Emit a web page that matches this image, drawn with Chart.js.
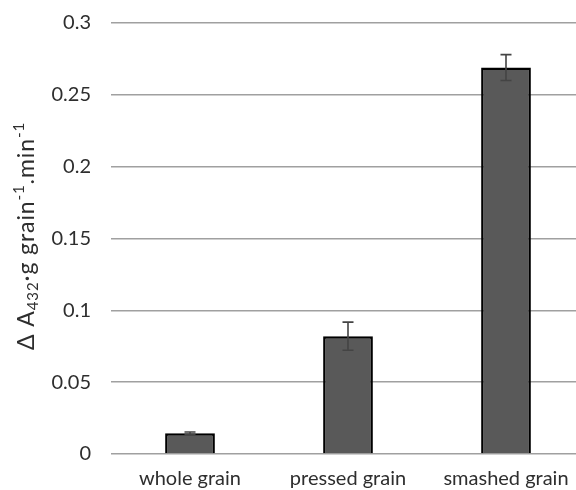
<!DOCTYPE html>
<html>
<head>
<meta charset="utf-8">
<script src="https://cdn.jsdelivr.net/npm/chart.js@4.4.0/dist/chart.umd.min.js"></script>
<style>
  html, body { margin: 0; padding: 0; background: #fff; overflow: hidden; }
  #wrap { position: relative; width: 590px; height: 499px; margin-top: -9px; }
</style>
</head>
<body>
<div id="wrap"><canvas id="grainChart"></canvas></div>
<script>
// data
const categories = ['whole grain', 'pressed grain', 'smashed grain'];
const rateValues = [0.0145, 0.082, 0.269];
const rateErrors = [0.0008, 0.0098, 0.009];
const yTicks = [0, 0.05, 0.1, 0.15, 0.2, 0.25, 0.3];

const FONT = 'Lato, "Open Sans", sans-serif';

// error bars, drawn through the y scale
const errorBars = {
    id: 'errorBars',
    afterDatasetsDraw(chart) {
        const ctx = chart.ctx;
        const yScale = chart.scales.y;
        const meta = chart.getDatasetMeta(0);
        ctx.save();
        ctx.strokeStyle = '#444';
        ctx.lineWidth = 1.6;
        meta.data.forEach((bar, i) => {
            const top = yScale.getPixelForValue(rateValues[i] + rateErrors[i]);
            const bottom = yScale.getPixelForValue(rateValues[i] - rateErrors[i]);
            const half = 5.5;
            ctx.beginPath();
            ctx.moveTo(bar.x, top);
            ctx.lineTo(bar.x, bottom);
            ctx.moveTo(bar.x - half, top);
            ctx.lineTo(bar.x + half, top);
            ctx.moveTo(bar.x - half, bottom);
            ctx.lineTo(bar.x + half, bottom);
            ctx.stroke();
        });
        ctx.restore();
    }
};

// y axis title with sub- and superscripts
const yTitle = {
    id: 'yTitle',
    afterDraw(chart) {
        const ctx = chart.ctx;
        const parts = [
            { t: '\u0394 A', size: 23, dy: 0 },
            { t: '432', size: 15, dy: 4 },
            { t: '\u00B7g grain', size: 23, dy: 0 },
            { t: '-1', size: 15, dy: -10 },
            { t: '.min', size: 23, dy: 0 },
            { t: '-1', size: 15, dy: -10 }
        ];
        ctx.save();
        ctx.letterSpacing = '0.9px';
        let total = 0;
        parts.forEach(p => {
            ctx.font = p.size + 'px ' + FONT;
            p.w = ctx.measureText(p.t).width;
            total += p.w;
        });
        ctx.translate(34, 245);
        ctx.rotate(-Math.PI / 2);
        ctx.fillStyle = '#2e2e2e';
        ctx.textBaseline = 'alphabetic';
        let x = -total / 2;
        parts.forEach(p => {
            ctx.font = p.size + 'px ' + FONT;
            ctx.fillText(p.t, x, p.dy);
            x += p.w;
        });
        ctx.restore();
    }
};

const ctx = document.getElementById('grainChart').getContext('2d');
window.grainChart = new Chart(ctx, {
    type: 'bar',
    data: {
        labels: categories,
        datasets: [{
            label: 'rate',
            data: rateValues,
            backgroundColor: '#595959',
            borderColor: '#000',
            borderWidth: 2.5,
            barPercentage: 0.315,
            categoryPercentage: 1
        }]
    },
    options: {
        responsive: true,
        maintainAspectRatio: false,
        animation: false,
        layout: { padding: { left: 0, right: 5, top: 15, bottom: 0 } },
        plugins: {
            legend: { display: false },
            tooltip: { enabled: false }
        },
        scales: {
            x: {
                grid: { display: false },
                border: { display: false },
                ticks: {
                    color: '#2e2e2e',
                    font: { family: FONT, size: 20 },
                    maxRotation: 0,
                    padding: 5
                },
                afterFit(scale) { scale.height = 36; }
            },
            y: {
                min: 0,
                max: 0.3,
                afterBuildTicks(scale) {
                    scale.ticks = yTicks.map(v => ({ value: v }));
                },
                grid: { color: '#a0a0a0', lineWidth: 1.6, drawTicks: false },
                border: { display: false },
                ticks: {
                    color: '#2e2e2e',
                    font: { family: FONT, size: 20 },
                    padding: 20,
                    callback: v => String(parseFloat(v.toFixed(2)))
                },
                afterFit(scale) { scale.width = 111; }
            }
        }
    },
    plugins: [errorBars, yTitle]
});
</script>
</body>
</html>
